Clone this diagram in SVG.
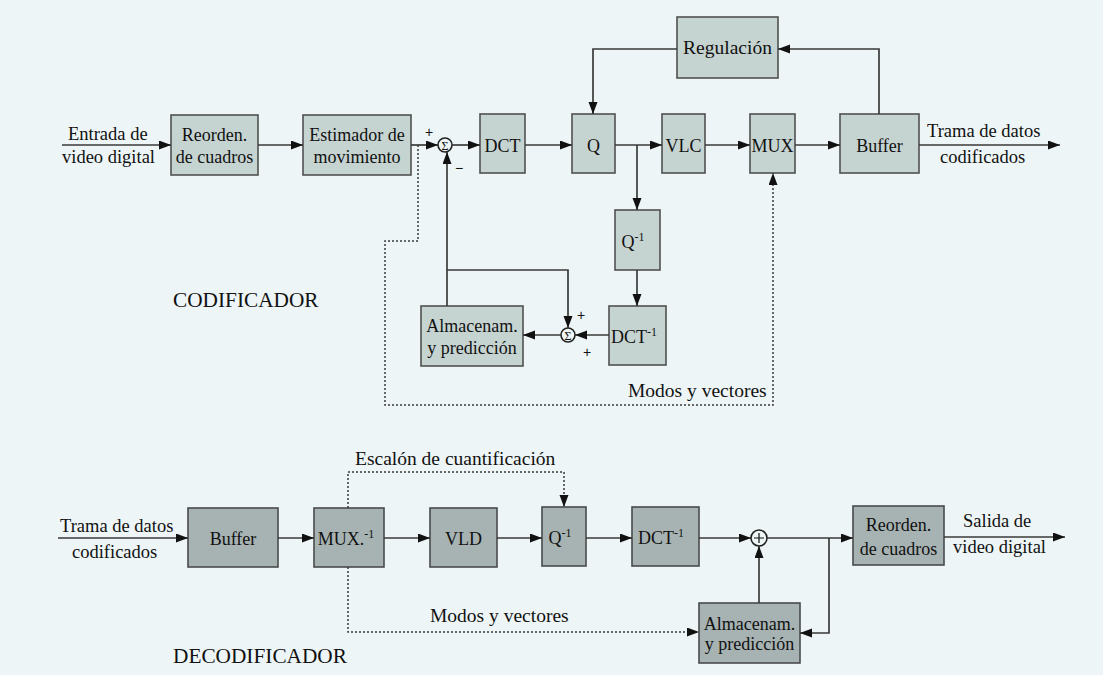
<svg xmlns="http://www.w3.org/2000/svg" width="1103" height="675" viewBox="0 0 1103 675">
  <defs>
    <marker id="arr" markerUnits="userSpaceOnUse" markerWidth="13" markerHeight="10" refX="12" refY="4.5" orient="auto">
      <path d="M0,0 L12,4.5 L0,9 z" fill="#111"/>
    </marker>
    <style>
      .enc { fill: #c6d4d1; stroke: #505050; stroke-width: 1.6; }
      .dec { fill: #a7b3b2; stroke: #4a4a4a; stroke-width: 1.6; }
      .lbl { font-family: "Liberation Serif", "Times New Roman", serif; font-size: 18px; fill: #111; text-anchor: middle; }
      .txt { font-family: "Liberation Serif", "Times New Roman", serif; font-size: 18.5px; fill: #111; }
      .big { font-size: 19.5px; }
      .title { font-family: "Liberation Serif", "Times New Roman", serif; font-size: 21.3px; fill: #111; }
      .sign { font-family: "Liberation Sans", Arial, sans-serif; font-size: 14px; fill: #111; text-anchor: middle; }
      .ln { fill: none; stroke: #3a3a3a; stroke-width: 1.7; }
      .dot { fill: none; stroke: #3a3a3a; stroke-width: 1.5; stroke-dasharray: 2 2; }
      .sum { fill: #eef5f5; stroke: #222; stroke-width: 1.6; }
      .sigma { font-family: "Liberation Serif", serif; font-size: 12px; fill: #111; text-anchor: middle; }
    </style>
  </defs>

  <rect width="1103" height="675" fill="#edf5f6"/>

  <!-- ===== Encoder ===== -->
  <g id="enc-reorden"><rect class="enc" x="171" y="115" width="87" height="60"/>
    <text class="lbl" x="214.5" y="141">Reorden.</text><text class="lbl" x="214.5" y="163">de cuadros</text></g>
  <g id="enc-estimador"><rect class="enc" x="303" y="115" width="108" height="60"/>
    <text class="lbl" x="357" y="141">Estimador de</text><text class="lbl" x="357" y="163">movimiento</text></g>
  <g id="enc-sum1"><circle class="sum" cx="445" cy="145" r="7"/>
    <text class="sigma" x="445" y="149.5">Σ</text></g>
  <g id="enc-dct"><rect class="enc" x="480" y="114" width="45" height="59"/>
    <text class="lbl" x="502.5" y="152">DCT</text></g>
  <g id="enc-q"><rect class="enc" x="572" y="114" width="43" height="59"/>
    <text class="lbl" x="593.5" y="152">Q</text></g>
  <g id="enc-vlc"><rect class="enc" x="662" y="114" width="43" height="59"/>
    <text class="lbl" x="683.5" y="152">VLC</text></g>
  <g id="enc-mux"><rect class="enc" x="750" y="114" width="45" height="59"/>
    <text class="lbl" x="772.5" y="152">MUX</text></g>
  <g id="enc-buffer"><rect class="enc" x="840" y="114" width="79" height="59"/>
    <text class="lbl" x="879.5" y="152">Buffer</text></g>
  <g id="enc-regulacion"><rect class="enc" x="677" y="17" width="101" height="61"/>
    <text class="lbl big" x="727.5" y="54">Regulación</text></g>
  <g id="enc-qinv"><rect class="enc" x="615" y="210" width="45" height="60"/>
    <text class="lbl" x="633" y="248">Q<tspan font-size="12" dy="-7">-1</tspan></text></g>
  <g id="enc-dctinv"><rect class="enc" x="609" y="306" width="57" height="59"/>
    <text class="lbl" x="634" y="343">DCT<tspan font-size="12" dy="-7">-1</tspan></text></g>
  <g id="enc-sum2"><circle class="sum" cx="568" cy="335" r="7"/>
    <text class="sigma" x="568" y="339.5">Σ</text></g>
  <g id="enc-almacenam"><rect class="enc" x="421" y="306" width="102" height="60"/>
    <text class="lbl" x="472" y="332">Almacenam.</text><text class="lbl" x="472" y="354">y predicción</text></g>

  <!-- ===== Decoder ===== -->
  <g id="dec-buffer"><rect class="dec" x="188" y="508" width="90" height="59"/>
    <text class="lbl" x="233" y="545">Buffer</text></g>
  <g id="dec-mux"><rect class="dec" x="314" y="508" width="70" height="59"/>
    <text class="lbl" x="346" y="545">MUX.<tspan font-size="12" dy="-7">-1</tspan></text></g>
  <g id="dec-vld"><rect class="dec" x="430" y="508" width="67" height="59"/>
    <text class="lbl" x="463.5" y="545">VLD</text></g>
  <g id="dec-qinv"><rect class="dec" x="542" y="507" width="44" height="59"/>
    <text class="lbl" x="560" y="544">Q<tspan font-size="12" dy="-7">-1</tspan></text></g>
  <g id="dec-dctinv"><rect class="dec" x="632" y="507" width="67" height="59"/>
    <text class="lbl" x="661" y="544">DCT<tspan font-size="12" dy="-7">-1</tspan></text></g>
  <g id="dec-sum"><circle class="sum" cx="759" cy="538" r="8"/>
    <path d="M759,533 V543 M754,538 H764" stroke="#111" stroke-width="1.2"/></g>
  <g id="dec-reorden"><rect class="dec" x="853" y="506" width="91" height="59"/>
    <text class="lbl" x="898.5" y="531">Reorden.</text><text class="lbl" x="898.5" y="555">de cuadros</text></g>
  <g id="dec-almacenam"><rect class="dec" x="699" y="603" width="101" height="60"/>
    <text class="lbl" x="749.5" y="630">Almacenam.</text><text class="lbl" x="749.5" y="650">y predicción</text></g>

  <!-- ===== Connectors ===== -->
  <g id="connectors">
    <!-- encoder forward path -->
    <path class="ln" d="M62,145 H171" marker-end="url(#arr)"/>
    <path class="ln" d="M258,145 H303" marker-end="url(#arr)"/>
    <path class="ln" d="M411,145 H438" marker-end="url(#arr)"/>
    <path class="ln" d="M452,145 H480" marker-end="url(#arr)"/>
    <path class="ln" d="M525,145 H572" marker-end="url(#arr)"/>
    <path class="ln" d="M615,145 H662" marker-end="url(#arr)"/>
    <path class="ln" d="M705,145 H750" marker-end="url(#arr)"/>
    <path class="ln" d="M795,145 H840" marker-end="url(#arr)"/>
    <path class="ln" d="M919,145 H1060" marker-end="url(#arr)"/>
    <!-- rate control loop -->
    <path class="ln" d="M879,114 V49 H778" marker-end="url(#arr)"/>
    <path class="ln" d="M677,49 H593 V114" marker-end="url(#arr)"/>
    <!-- reconstruction loop -->
    <path class="ln" d="M637,145 V210" marker-end="url(#arr)"/>
    <path class="ln" d="M637,270 V306" marker-end="url(#arr)"/>
    <path class="ln" d="M609,335 H575" marker-end="url(#arr)"/>
    <path class="ln" d="M561,335 H523" marker-end="url(#arr)"/>
    <path class="ln" d="M447,306 V152" marker-end="url(#arr)"/>
    <path class="ln" d="M447,270 H568 V328" marker-end="url(#arr)"/>
    <!-- modes and vectors (encoder) -->
    <path class="dot" d="M418,145 V241 H385 V405 H773 V173" marker-end="url(#arr)"/>

    <!-- decoder forward path -->
    <path class="ln" d="M58,538 H188" marker-end="url(#arr)"/>
    <path class="ln" d="M278,538 H314" marker-end="url(#arr)"/>
    <path class="ln" d="M384,538 H430" marker-end="url(#arr)"/>
    <path class="ln" d="M497,538 H542" marker-end="url(#arr)"/>
    <path class="ln" d="M586,538 H632" marker-end="url(#arr)"/>
    <path class="ln" d="M699,538 H751" marker-end="url(#arr)"/>
    <path class="ln" d="M767,538 H853" marker-end="url(#arr)"/>
    <path class="ln" d="M944,537 H1065" marker-end="url(#arr)"/>
    <path class="ln" d="M759,603 V546" marker-end="url(#arr)"/>
    <path class="ln" d="M829,538 V633 H800" marker-end="url(#arr)"/>
    <!-- side information (decoder) -->
    <path class="dot" d="M348,508 V472 H564 V507" marker-end="url(#arr)"/>
    <path class="dot" d="M348,567 V632 H699" marker-end="url(#arr)"/>
  </g>

  <!-- signs at the adders -->
  <text class="sign" x="429" y="137">+</text>
  <text class="sign" x="459" y="173">−</text>
  <text class="sign" x="581" y="320">+</text>
  <text class="sign" x="587" y="357">+</text>

  <!-- free labels -->
  <text class="txt" x="68" y="140">Entrada de</text>
  <text class="txt" x="62" y="163">video digital</text>
  <text class="txt" x="927" y="137">Trama de datos</text>
  <text class="txt" x="940" y="163">codificados</text>
  <text class="txt big" x="628" y="397">Modos y vectores</text>
  <text class="title" x="173" y="307">CODIFICADOR</text>

  <text class="txt" x="60" y="532">Trama de datos</text>
  <text class="txt" x="72" y="558">codificados</text>
  <text class="txt big" x="355" y="465">Escalón de cuantificación</text>
  <text class="txt big" x="430" y="622">Modos y vectores</text>
  <text class="txt" x="963" y="527">Salida de</text>
  <text class="txt" x="953" y="553">video digital</text>
  <text class="title" x="173" y="663">DECODIFICADOR</text>
</svg>
